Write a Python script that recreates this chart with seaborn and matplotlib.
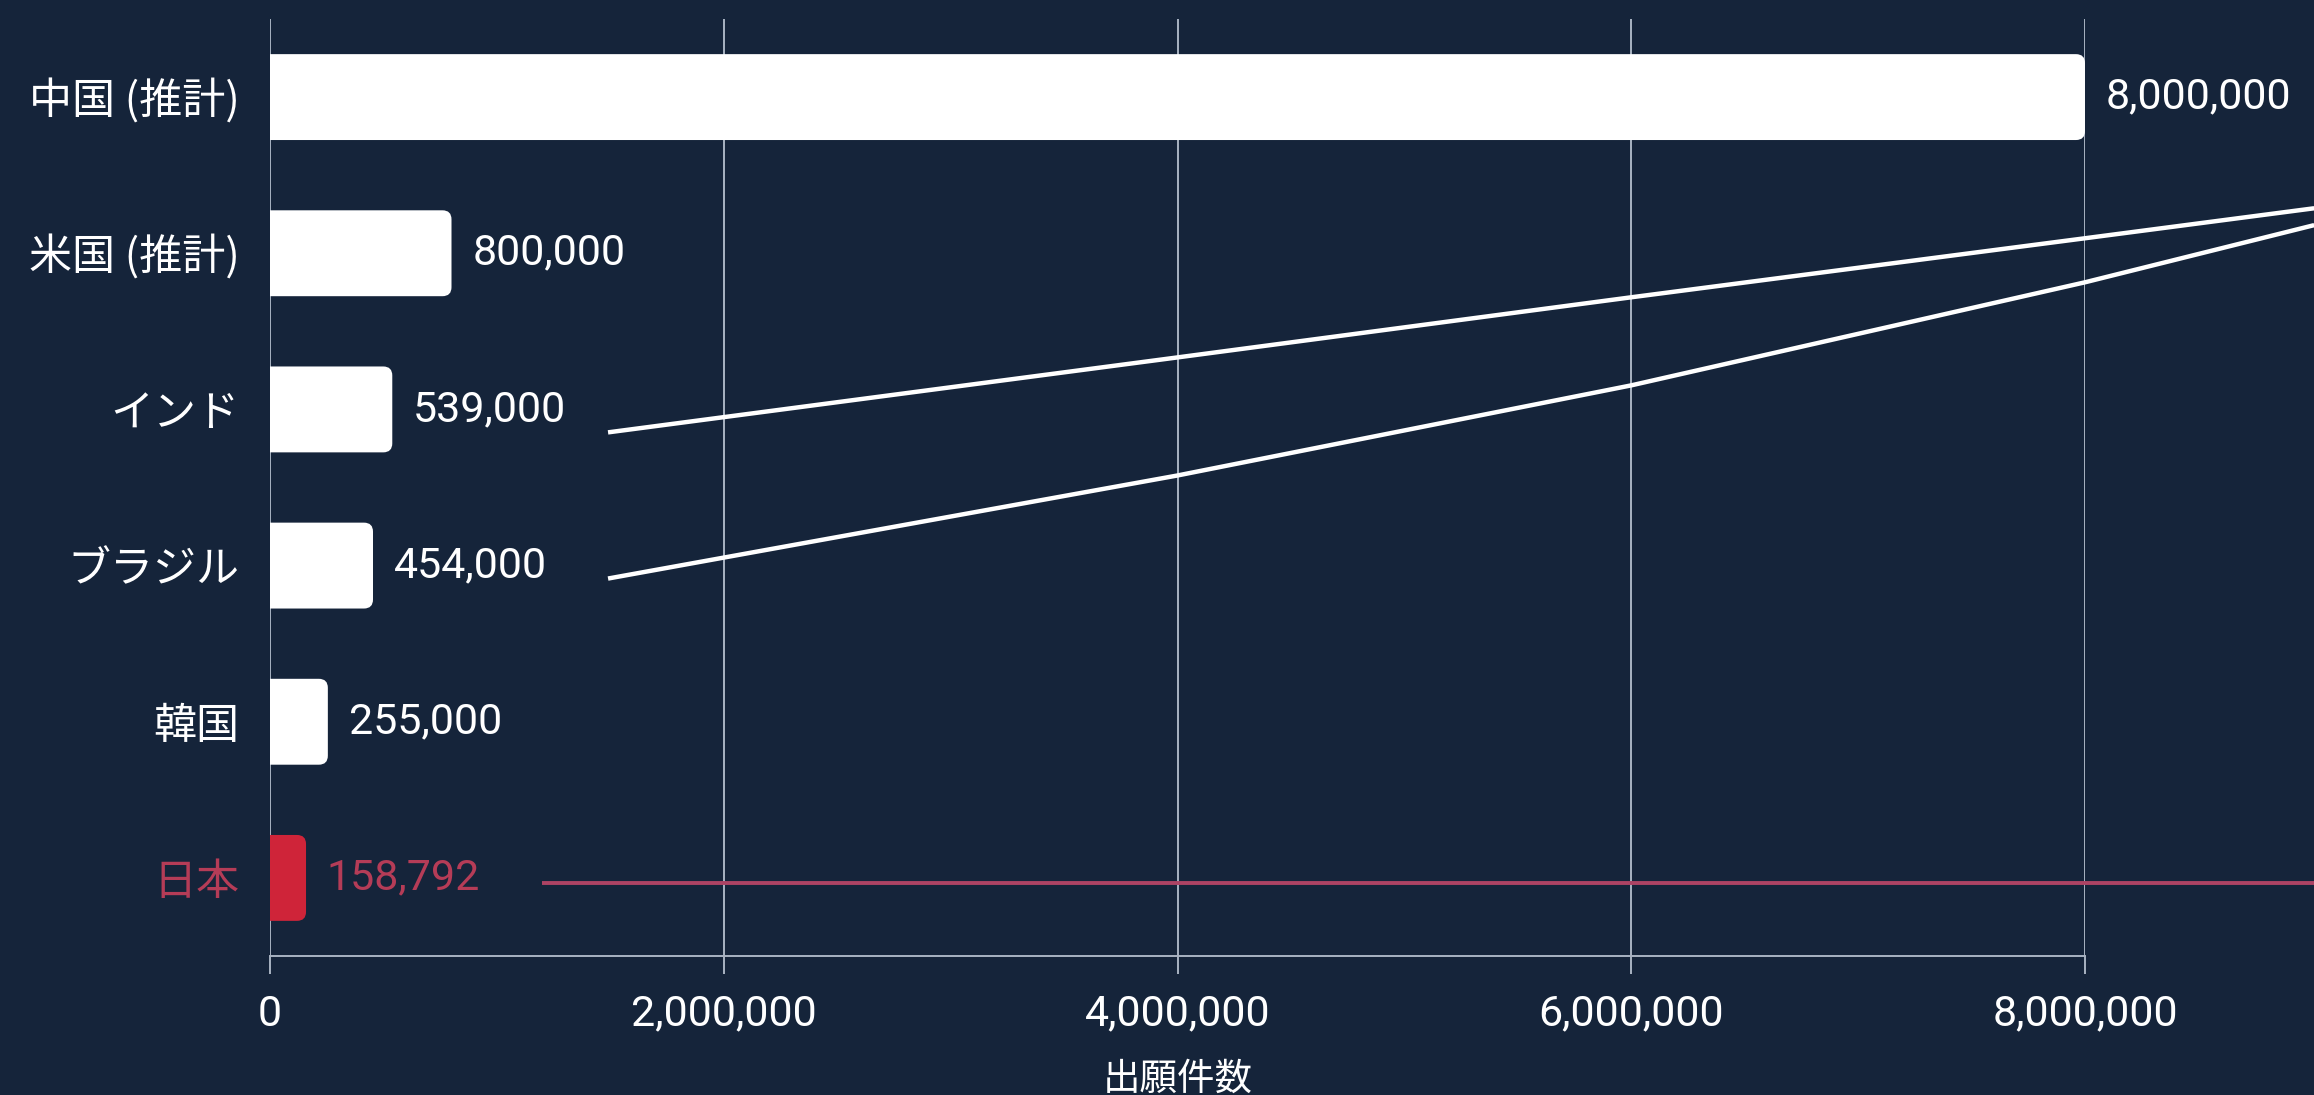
import matplotlib
matplotlib.use("Agg")
import matplotlib.pyplot as plt
from matplotlib.patches import FancyBboxPatch
import seaborn as sns
import pandas as pd

# ---- data ----
categories = ["中国 (推計)", "米国 (推計)", "インド", "ブラジル", "韓国", "日本"]
values = [8000000, 800000, 539000, 454000, 255000, 158792]
highlight = "日本"
xticks = [0, 2000000, 4000000, 6000000, 8000000]
xlabel = "出願件数"
# decorative connector lines (x value, category index)
line_india_x = [1490000, 4000000, 6000000, 8000000, 9010000]
line_india_y = [2.147, 1.667, 1.282, 0.904, 0.712]
line_brazil_x = [1490000, 4000000, 6000000, 8000000, 9010000]
line_brazil_y = [3.083, 2.423, 1.846, 1.186, 0.82]
line_japan_x = [1200000, 9100000]
line_japan_y = [5.03, 5.03]

BG = "#15243a"
WHITE = "#ffffff"
RED_BAR = "#cf2439"
RED_TEXT = "#b53c57"
RED_LINE = "#ad4364"
GRID = "#a9b3c2"

sns.set_theme(style="dark")
plt.rcParams["font.family"] = ["Noto Sans CJK JP", "DejaVu Sans"]
NUM_FONT = ["Roboto", "Noto Sans CJK JP"]
CJK_FONT = ["Noto Sans CJK JP", "DejaVu Sans"]

W, H = 2314, 1095
fig = plt.figure(figsize=(W / 100, H / 100), dpi=100, facecolor=BG)
ax = fig.add_axes([270 / W, (H - 956) / H, (2085 - 270) / W, (956 - 19) / H])
ax.set_facecolor(BG)

df = pd.DataFrame({"cat": categories, "val": values})
colors = [RED_BAR if c == highlight else WHITE for c in categories]
sns.barplot(data=df, x="val", y="cat", hue="cat", palette=colors, orient="h",
            width=0.55, legend=False, ax=ax, saturation=1)

ax.set_xlim(0, 8000000)
ax.set_ylim(5.5, -0.5)

# rounded bar ends
fig.canvas.draw()
p0 = ax.transData.transform((0, 0))
p1 = ax.transData.transform((1e6, 1))
xpx = (p1[0] - p0[0]) / 1e6
ypx = abs(p1[1] - p0[1])
r_px = 9
r_x = r_px / xpx
aspect = xpx / ypx
for patch in list(ax.patches):
    x, y = patch.get_x(), patch.get_y()
    w, h = patch.get_width(), patch.get_height()
    fc = patch.get_facecolor()
    patch.remove()
    fb = FancyBboxPatch((x - r_x, y), w + r_x, h,
                        boxstyle=f"round,pad=0,rounding_size={r_x}",
                        mutation_aspect=aspect, facecolor=fc, edgecolor="none",
                        zorder=3)
    fb.set_clip_path(ax.patch)
    ax.add_patch(fb)

# value labels
for i, (c, v) in enumerate(zip(categories, values)):
    col = RED_TEXT if c == highlight else WHITE
    ax.annotate(f"{v:,}", xy=(v, i), xytext=(15, 0), textcoords="offset points",
                va="center", ha="left", fontsize=31, color=col,
                family=NUM_FONT, annotation_clip=False, zorder=5)

# connector lines
for xs, ys, col, lw in [(line_india_x, line_india_y, WHITE, 3.2),
                        (line_brazil_x, line_brazil_y, WHITE, 3.2),
                        (line_japan_x, line_japan_y, RED_LINE, 2.8)]:
    ax.plot(xs, ys, color=col, lw=lw, clip_on=False, zorder=4,
            solid_capstyle="butt", solid_joinstyle="round")

# axes styling
ax.set_xticks(xticks)
ax.set_xticklabels([f"{t:,}" for t in xticks], family=NUM_FONT)
ax.grid(axis="x", color=GRID, lw=1.4)
ax.grid(axis="y", visible=False)
ax.set_axisbelow(True)
for s in ["left", "top", "right"]:
    ax.spines[s].set_visible(False)
ax.spines["bottom"].set_color(GRID)
ax.spines["bottom"].set_linewidth(1.4)
ax.tick_params(axis="x", length=13, width=1.4, color=GRID, pad=14,
               labelsize=31, labelcolor=WHITE, bottom=True)
ax.tick_params(axis="y", length=0, pad=22, labelsize=31, labelcolor=WHITE)
for lbl in ax.get_yticklabels():
    lbl.set_family(CJK_FONT)
    if lbl.get_text() == highlight:
        lbl.set_color(RED_TEXT)
ax.set_ylabel("")
ax.set_xlabel(xlabel, fontsize=27, color=WHITE, family=CJK_FONT)
ax.xaxis.set_label_coords(0.5, -(1079 - 956) / (956 - 19))
ax.xaxis.label.set_va("center")

fig.savefig("out.png", dpi=100, facecolor=BG)
